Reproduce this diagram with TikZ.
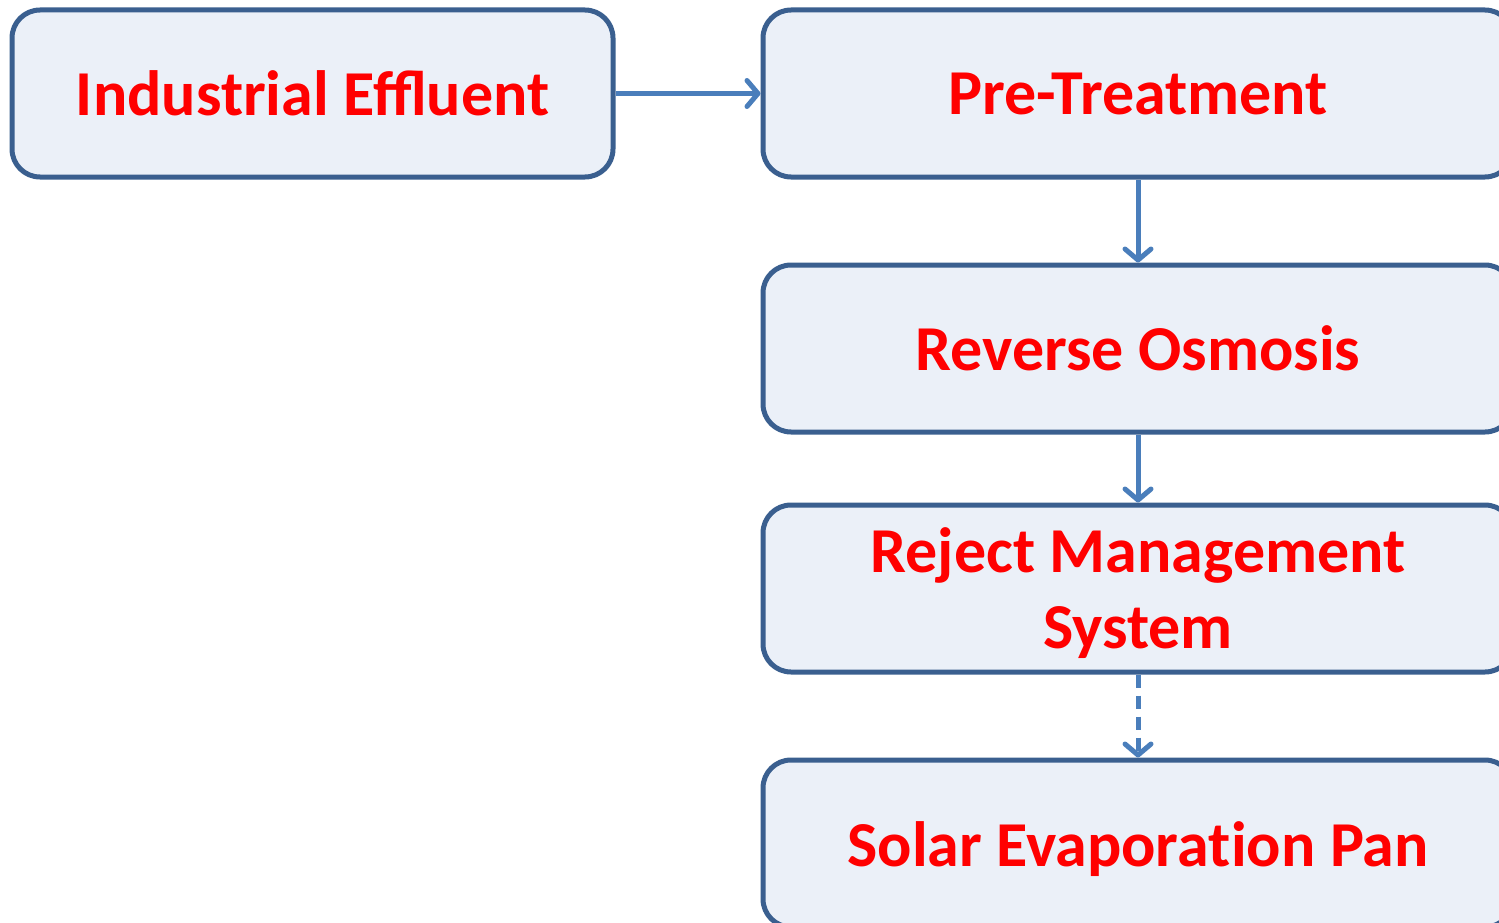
\documentclass[tikz,border=0pt]{standalone}
\usepackage{fontspec}
\setmainfont{Carlito}
\usetikzlibrary{arrows.meta}
\definecolor{boxdraw}{HTML}{3A5F8F}
\definecolor{boxfill}{HTML}{EBF0F8}
\definecolor{arrowc}{HTML}{4A7EBB}
\definecolor{txt}{HTML}{FF0000}
\tikzset{
  boxtext/.style={font=\fontsize{64}{76}\selectfont\bfseries, text=txt, align=center, inner sep=0pt},
  procbox/.style={draw=boxdraw, fill=boxfill, line width=5pt, rounded corners=28pt,
    minimum height=167pt, boxtext},
  flow/.style={draw=arrowc, line width=5pt, -{Straight Barb[length=11pt,width=26pt,line width=5pt,round]}},
}
\begin{document}
\begin{tikzpicture}[x=1pt,y=-1pt]
\useasboundingbox (0,0) rectangle (1499,923);
\clip (0,0) rectangle (1499,923);
\node[procbox, minimum width=601pt] (ie) at (312.5,93.5) {Industrial Effluent};
\node[procbox, minimum width=750pt] (pt) at (1138,93.5) {Pre-Treatment};
\node[procbox, minimum width=750pt] (ro) at (1138,348.5) {Reverse Osmosis};
\node[procbox, minimum width=750pt] (rm) at (1138,588.5) {};
\node[boxtext] (rmt) at (1138,593) {Reject Management\\System};
\node[procbox, minimum width=750pt] (sp) at (1138,843.5) {};
\node[boxtext] (spt) at (1138,849.5) {Solar Evapora\mbox{t}ion Pan};
\draw[flow] (ie.east) -- (pt.west);
\draw[flow] (pt.south) -- (ro.north);
\draw[flow] (ro.south) -- (rm.north);
\draw[flow, dash pattern=on 13pt off 8pt] (rm.south) -- (sp.north);
\end{tikzpicture}
\end{document}
